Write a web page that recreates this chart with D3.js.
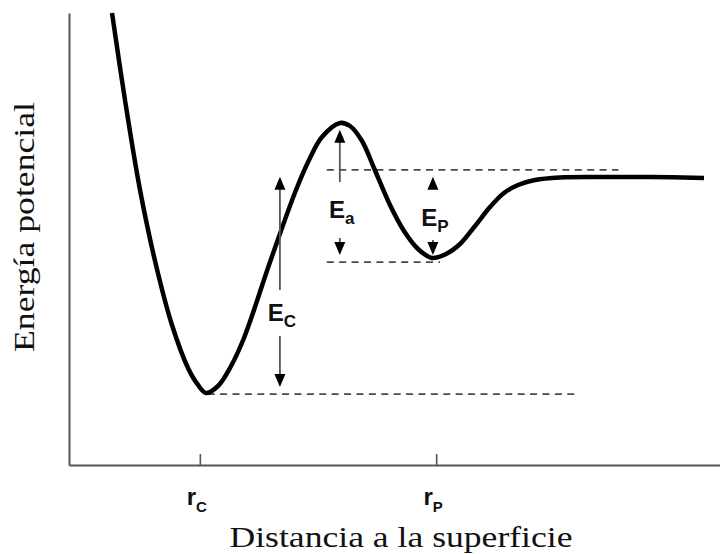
<!DOCTYPE html>
<html>
<head>
<meta charset="utf-8">
<script src="https://cdn.jsdelivr.net/npm/d3@7"></script>
<style>
  html, body { margin: 0; padding: 0; background: #fff; }
  svg { display: block; }
</style>
</head>
<body>
<svg id="chart" width="720" height="554"></svg>
<script>
// Potential energy curve (arbitrary units): distance from surface vs energy
const distance = [0.661, 0.860, 1.091, 1.336, 1.582, 1.828, 1.982, 2.104,
                  2.289, 2.473, 2.688, 3.088, 3.487, 3.702, 3.886, 4.163,
                  4.316, 4.501, 4.685, 4.931, 5.146, 5.361, 5.576,
                  5.791, 6.006, 6.237, 6.467, 6.682, 6.897, 7.158, 7.542, 8.157, 8.925, 9.754];
const energy   = [10.0, 8.075, 6.084, 4.425, 3.097, 2.146, 1.770, 1.593,
                  1.748, 2.146, 2.810, 4.491, 6.084, 6.792, 7.257, 7.566,
                  7.500, 7.168, 6.571, 5.752, 5.177, 4.779, 4.580,
                  4.668, 4.889, 5.288, 5.708, 6.018, 6.195, 6.305, 6.361, 6.372, 6.372, 6.350];

// Characteristic distances (x-axis ticks)
const tickNames = ["C", "P"];
const tickPositions = [2.01, 5.64];

// Reference energy levels: dashed guides [energy, xStart, xEnd]
const levelEnergy = [6.53, 4.49, 1.57];
const levelStart  = [3.96, 3.96, 2.13];
const levelEnd    = [8.44, 5.70, 7.83];

// Energy gaps shown with arrows
const gapNames = ["C", "a", "P"];
const gapX     = [3.24, 4.16, 5.59];
const gapTop   = [6.53, 7.57, 6.53];
const gapBottom = [1.57, 4.49, 4.49];

const svg = d3.select("#chart");
const x = d3.scaleLinear().domain([0, 10]).range([69, 720]);
const y = d3.scaleLinear().domain([0, 10]).range([465, 13]);

// Axes
const axisColor = "#555";
const xAxis = svg.append("g")
  .attr("transform", `translate(0,${y(0)})`)
  .call(d3.axisBottom(x).tickValues(tickPositions).tickSizeInner(-11).tickSizeOuter(0).tickFormat(""));
const yAxis = svg.append("g")
  .attr("transform", `translate(${x(0)},0)`)
  .call(d3.axisLeft(y).tickValues([]).tickSizeOuter(0));
[xAxis, yAxis].forEach(g => {
  g.select(".domain").attr("stroke", axisColor).attr("stroke-width", 2);
  g.selectAll(".tick line").attr("stroke", axisColor).attr("stroke-width", 1.6);
});

// Tick labels r_C, r_P
const tickLabels = svg.append("g").attr("font-family", "'Liberation Sans', Arial, sans-serif")
  .attr("font-weight", "bold").attr("fill", "#111");
tickPositions.forEach((d, i) => {
  const t = tickLabels.append("text")
    .attr("x", x(d) - 3).attr("y", 505)
    .attr("text-anchor", "middle").attr("font-size", 24);
  t.append("tspan").text("r");
  t.append("tspan").attr("font-size", 15).attr("dy", 7).text(tickNames[i]);
});

// Dashed level guides
svg.append("g").selectAll("line")
  .data(levelEnergy)
  .join("line")
  .attr("x1", (d, i) => x(levelStart[i]))
  .attr("x2", (d, i) => x(levelEnd[i]))
  .attr("y1", d => y(d)).attr("y2", d => y(d))
  .attr("stroke", "#4a4a4a").attr("stroke-width", 1.8)
  .attr("stroke-dasharray", "7,5.4");

// Potential curve
const pts = distance.map((d, i) => [d, energy[i]]);
svg.append("path")
  .datum(pts)
  .attr("fill", "none")
  .attr("stroke", "#000")
  .attr("stroke-width", 4.5)
  .attr("stroke-linejoin", "round")
  .attr("stroke-linecap", "butt")
  .attr("d", d3.line().x(d => x(d[0])).y(d => y(d[1])).curve(d3.curveCatmullRom.alpha(0.5)));

// Energy gap arrows with labels
const labelCenter = [313, 210, 218]; // vertical centre of each label (px)
const labelHalf = [23, 28, 23];      // half-gap left around each label (px)
const headW = 5.5, headH = 13, tipInset = 7;
const arrows = svg.append("g");
gapNames.forEach((name, i) => {
  const cx = x(gapX[i]);
  const yTop = y(gapTop[i]) + tipInset;
  const yBot = y(gapBottom[i]) - tipInset;
  const upEnd = labelCenter[i] - labelHalf[i];
  const downStart = labelCenter[i] + labelHalf[i];
  // up arrow
  if (i !== 2) {
    arrows.append("line").attr("x1", cx).attr("x2", cx)
      .attr("y1", yTop + headH - 1).attr("y2", upEnd)
      .attr("stroke", "#555").attr("stroke-width", 1.8);
  }
  arrows.append("path")
    .attr("d", `M${cx},${yTop} L${cx - headW},${yTop + headH} L${cx + headW},${yTop + headH} Z`)
    .attr("fill", "#000");
  // down arrow
  arrows.append("line").attr("x1", cx).attr("x2", cx)
    .attr("y1", i === 2 ? downStart - 1 : downStart).attr("y2", yBot - headH + 1)
    .attr("stroke", "#555").attr("stroke-width", 1.8);
  arrows.append("path")
    .attr("d", `M${cx},${yBot} L${cx - headW},${yBot - headH} L${cx + headW},${yBot - headH} Z`)
    .attr("fill", "#000");
  // label
  const t = arrows.append("text")
    .attr("x", cx + 2).attr("y", labelCenter[i] + 8)
    .attr("text-anchor", "middle")
    .attr("font-family", "'Liberation Sans', Arial, sans-serif")
    .attr("font-weight", "bold").attr("font-size", 24).attr("fill", "#111");
  t.append("tspan").text("E");
  t.append("tspan").attr("font-size", 17).attr("dy", 6).text(name);
});

// Axis titles
svg.append("text")
  .attr("x", 401).attr("y", 547)
  .attr("text-anchor", "middle")
  .attr("font-family", "'Liberation Serif', 'Times New Roman', serif")
  .attr("font-size", 30)
  .attr("textLength", 343).attr("lengthAdjust", "spacingAndGlyphs")
  .attr("fill", "#111")
  .text("Distancia a la superficie");

svg.append("text")
  .attr("transform", "translate(34,227) rotate(-90)")
  .attr("text-anchor", "middle")
  .attr("font-family", "'Liberation Serif', 'Times New Roman', serif")
  .attr("font-size", 30)
  .attr("textLength", 250).attr("lengthAdjust", "spacingAndGlyphs")
  .attr("fill", "#111")
  .text("Energía potencial");
</script>
</body>
</html>
